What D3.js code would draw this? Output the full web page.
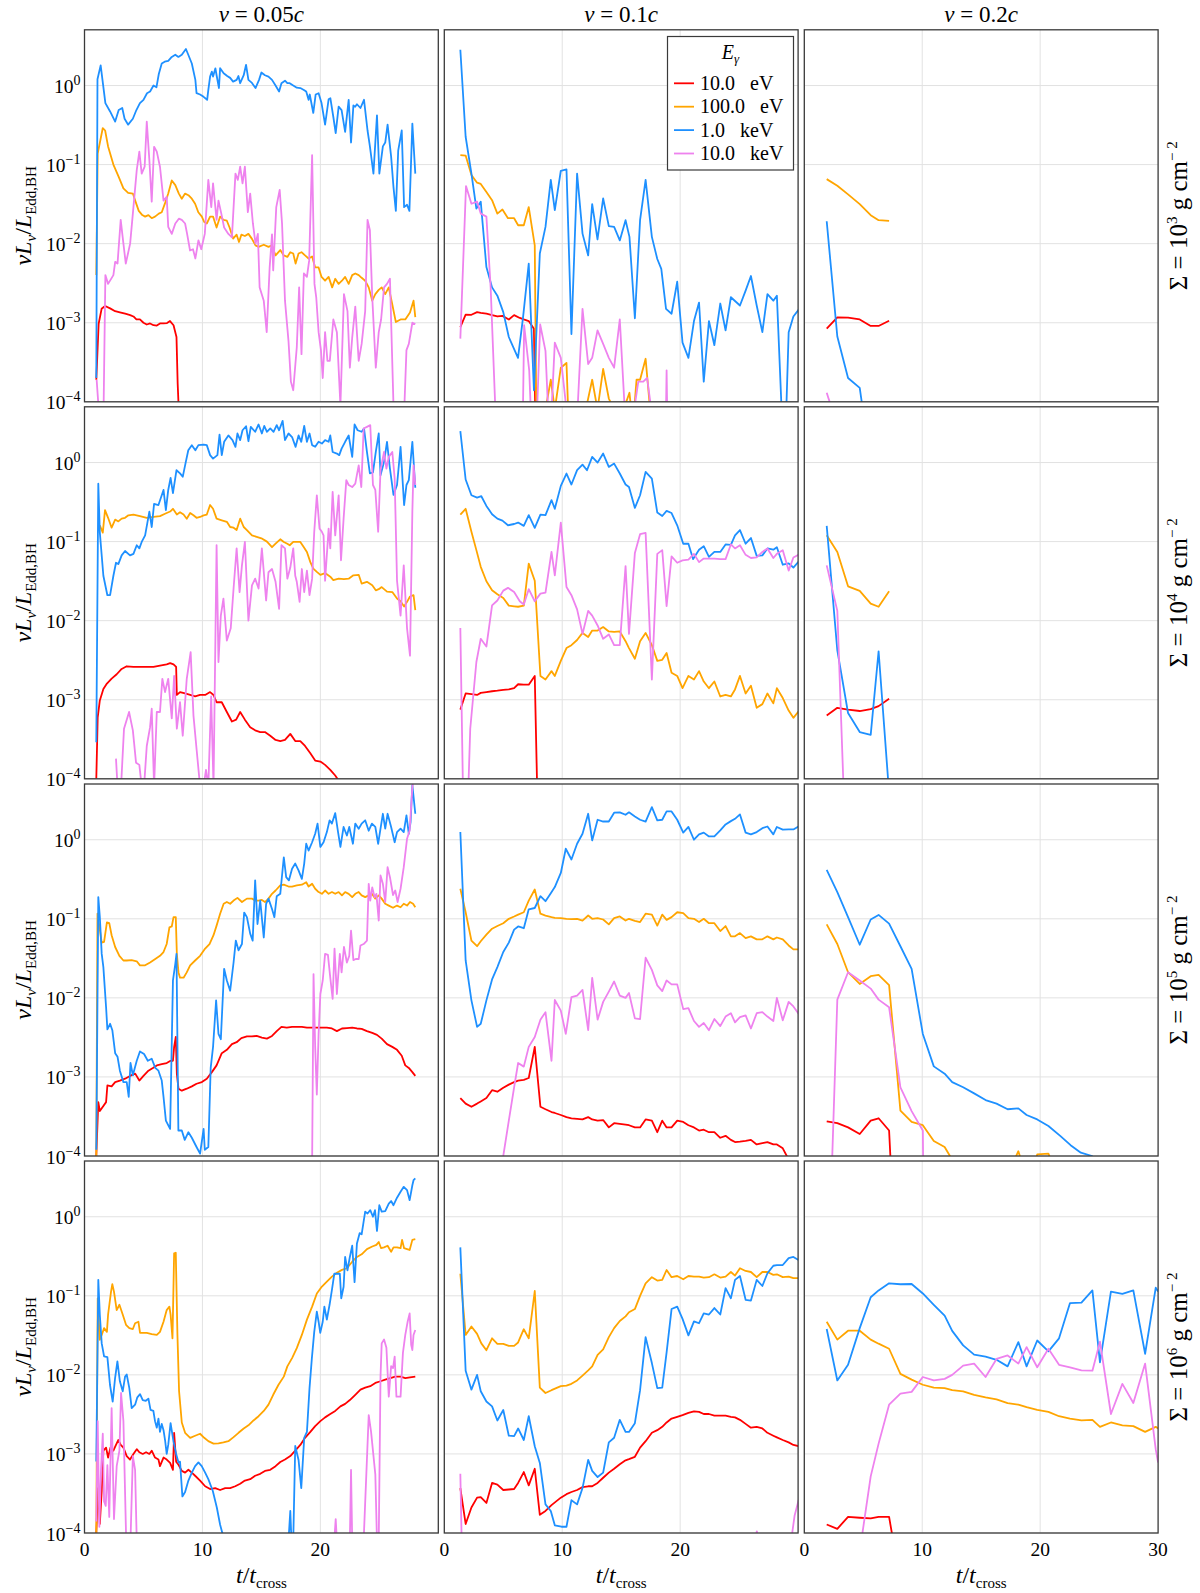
<!DOCTYPE html>
<html><head><meta charset="utf-8">
<script src="https://cdn.jsdelivr.net/npm/d3@7"></script>
<style>body{margin:0;background:#fff} svg text{font-family:"Liberation Serif",serif;white-space:pre}</style>
</head><body><svg id="c" width="1200" height="1593"></svg>
<script>
// ---------- labels / ticks ----------
const velocities = ["0.05","0.1","0.2"];
const sigmaExps = ["3","4","5","6"];
const energyLabels = ["10.0   eV","100.0   eV","1.0   keV","10.0   keV"];
const seriesColors = ["#ff0000","#ffa500","#1e90ff","#ee82ee"];
const xTicks = [0,10,20,30];
const yTickExps = [0,-1,-2,-3,-4];

// ---------- data: [t/tcross, nuL_nu/L_Edd,BH] ----------
// Sigma = 1e3, v = 0.05c
const red_r1c1 = [[1.0,1.9e-4],[1.2,9.7e-4],[1.45,1.5e-3],[1.75,1.63e-3],[2.17,1.52e-3],[2.6,1.4e-3],[3.0,1.35e-3],[3.45,1.3e-3],[3.87,1.25e-3],[4.15,1.2e-3],[4.4,1.1e-3],[4.7,1.1e-3],[5.0,1.0e-3],[5.28,9.5e-4],[5.56,9.8e-4],[5.85,9.3e-4],[6.13,9.2e-4],[6.4,9.8e-4],[6.7,9.8e-4],[7.0,9.9e-4],[7.25,1.05e-3],[7.55,9.3e-4],[7.8,6.6e-4],[7.9,1.7e-4],[8.05,5e-5]];
const orange_r1c1 = [[1.0,4e-3],[1.12,0.138],[1.55,0.29],[1.75,0.27],[2.0,0.17],[2.45,0.10],[2.9,0.07],[3.3,0.05],[3.7,0.044],[4.1,0.043],[4.3,0.035],[4.6,0.026],[4.9,0.023],[5.14,0.022],[5.42,0.023],[5.7,0.021],[5.98,0.022],[6.3,0.024],[6.55,0.025],[6.8,0.0316],[7.1,0.043],[7.4,0.063],[7.7,0.055],[8.0,0.043],[8.25,0.037],[8.53,0.043],[8.81,0.041],[9.1,0.037],[9.38,0.032],[9.65,0.025],[9.95,0.022],[10.15,0.0188],[10.37,0.018],[10.65,0.022],[10.9,0.022],[11.2,0.016],[11.5,0.022],[11.78,0.02],[12.07,0.0195],[12.3,0.016],[12.6,0.0116],[12.9,0.013],[13.1,0.0105],[13.3,0.013],[13.6,0.0125],[13.9,0.0133],[14.2,0.0115],[14.5,0.0095],[14.76,0.0091],[15.2,0.0097],[15.6,0.0091],[15.9,0.0095],[16.2,0.0071],[16.6,0.0083],[16.9,0.0071],[17.2,0.0068],[17.45,0.0078],[17.7,0.0075],[17.9,0.0056],[18.15,0.0075],[18.4,0.0078],[18.7,0.0071],[19.0,0.0065],[19.3,0.0069],[19.56,0.005],[19.85,0.005],[20.1,0.0038],[20.4,0.0034],[20.7,0.0038],[21.0,0.0028],[21.26,0.0036],[21.55,0.0031],[21.83,0.0034],[22.1,0.0038],[22.4,0.0031],[22.7,0.004],[22.96,0.0042],[23.25,0.004],[23.5,0.0037],[23.8,0.0034],[24.1,0.0028],[24.4,0.0019],[24.66,0.0023],[24.95,0.0026],[25.2,0.0028],[25.5,0.0023],[25.8,0.0028],[26.1,0.0017],[26.4,0.00102],[26.8,0.0011],[27.2,0.0011],[27.6,0.00135],[27.9,0.0019],[28.05,0.00118]];
const blue_r1c1 = [[1.0,2e-4],[1.1,1.2],[1.37,1.8],[1.77,0.6],[2.17,0.47],[2.6,0.35],[2.9,0.49],[3.2,0.52],[3.4,0.38],[3.7,0.32],[4.1,0.38],[4.4,0.49],[4.7,0.6],[5.0,0.66],[5.3,0.8],[5.56,0.84],[5.85,1.0],[6.1,0.95],[6.3,1.4],[6.55,1.9],[6.8,2.0],[7.1,2.05],[7.4,2.3],[7.7,2.45],[7.96,2.3],[8.25,2.45],[8.6,2.9],[8.8,2.45],[9.1,1.9],[9.4,1.18],[9.5,0.8],[9.8,0.77],[10.1,0.72],[10.4,0.66],[10.5,0.88],[10.65,1.3],[10.8,1.5],[10.9,1.3],[11.1,1.65],[11.2,1.35],[11.4,0.93],[11.5,1.66],[11.8,1.43],[12.1,1.32],[12.35,1.25],[12.6,1.12],[12.9,1.18],[13.05,1.32],[13.2,1.07],[13.5,1.35],[13.7,1.83],[13.9,1.18],[14.2,1.08],[14.5,0.93],[14.8,1.18],[15.0,1.46],[15.3,1.35],[15.6,1.3],[15.9,1.18],[16.2,1.0],[16.5,0.84],[16.7,1.07],[17.0,1.15],[17.2,1.07],[17.4,1.07],[17.7,1.0],[18.0,0.94],[18.3,0.93],[18.6,0.88],[18.8,0.84],[19.0,0.66],[19.1,0.77],[19.4,0.45],[19.6,0.77],[19.85,0.8],[20.1,0.6],[20.4,0.32],[20.7,0.67],[20.85,0.69],[21.1,0.4],[21.3,0.25],[21.55,0.54],[21.8,0.49],[22.1,0.26],[22.4,0.66],[22.6,0.19],[22.8,0.56],[22.95,0.54],[23.1,0.58],[23.4,0.52],[23.7,0.66],[24.0,0.27],[24.2,0.17],[24.5,0.077],[24.8,0.42],[25.0,0.077],[25.3,0.17],[25.5,0.19],[25.7,0.32],[26.0,0.126],[26.2,0.052],[26.4,0.026],[26.6,0.15],[26.9,0.27],[27.1,0.029],[27.35,0.031],[27.55,0.026],[27.8,0.33],[28.05,0.077]];
const violet_r1c1 = [[1.03,1.9e-4],[1.3,5e-5],[1.6,5e-5],[1.77,4e-3],[2.0,3.1e-3],[2.45,4e-3],[2.6,5.9e-3],[2.8,5.6e-3],[3.07,0.02],[3.3,0.01],[3.5,5.6e-3],[3.87,0.01],[4.15,0.029],[4.43,0.085],[4.65,0.146],[4.85,0.077],[5.1,0.094],[5.28,0.35],[5.5,0.114],[5.7,0.034],[5.9,0.168],[6.13,0.146],[6.4,0.094],[6.7,0.035],[6.97,0.039],[7.1,0.0163],[7.4,0.0133],[7.7,0.018],[8.0,0.0207],[8.25,0.02],[8.53,0.018],[8.7,0.0133],[8.95,0.0082],[9.2,0.0085],[9.4,6.5e-3],[9.66,0.011],[9.9,0.0085],[10.2,0.0133],[10.5,0.064],[10.75,0.029],[10.9,0.058],[11.2,0.02],[11.36,0.035],[11.6,0.024],[11.84,0.016],[12.2,0.0133],[12.5,0.012],[12.8,0.077],[13.0,0.064],[13.2,0.094],[13.4,0.058],[13.6,0.094],[13.85,0.025],[14.05,0.043],[14.28,0.018],[14.5,0.01],[14.7,0.0133],[14.85,2.8e-3],[15.2,1.9e-3],[15.45,7.6e-4],[15.7,5e-3],[15.9,0.0131],[16.0,4.6e-3],[16.26,0.029],[16.55,0.048],[16.75,0.018],[17.0,1.9e-3],[17.3,5.8e-4],[17.5,1.8e-4],[17.7,1.4e-4],[18.0,4.9e-4],[18.2,2.8e-3],[18.4,4e-4],[18.6,4.2e-3],[18.86,3.8e-3],[19.05,6.1e-3],[19.3,0.132],[19.5,3.1e-3],[19.65,2.1e-3],[19.85,7.6e-4],[20.05,4.5e-4],[20.2,2e-4],[20.4,7.6e-4],[20.6,3.3e-4],[20.8,3.3e-4],[21.1,1.1e-3],[21.4,7.6e-4],[21.7,9e-5],[22.0,2.3e-3],[22.3,1.4e-3],[22.5,2.7e-4],[22.7,6.5e-4],[22.96,1.6e-3],[23.25,3.3e-4],[23.5,5.4e-4],[23.8,1.4e-3],[24.0,0.02],[24.2,0.0148],[24.4,2.1e-3],[24.7,2.7e-4],[24.95,7.6e-4],[25.15,1.1e-3],[25.4,2.8e-3],[25.65,3.1e-3],[25.9,3.6e-3],[26.2,9e-5],[26.5,8e-5],[26.8,7e-5],[27.1,7e-5],[27.3,4.5e-4],[27.5,5.4e-4],[27.8,1e-3],[28.05,9.6e-4]];
// Sigma = 1e3, v = 0.1c
const red_r1c2 = [[1.36,8.8e-4],[1.81,1.27e-3],[2.3,1.26e-3],[2.78,1.36e-3],[3.09,1.33e-3],[3.57,1.3e-3],[4.05,1.25e-3],[4.5,1.2e-3],[4.93,1.22e-3],[5.47,1.1e-3],[5.92,1.25e-3],[6.4,1.15e-3],[6.74,1.1e-3],[7.16,1.05e-3],[7.6,8.4e-4],[7.73,5e-5]];
const orange_r1c2 = [[1.36,0.132],[1.81,0.13],[2.3,0.074],[2.78,0.059],[3.09,0.057],[3.57,0.045],[4.05,0.0355],[4.5,0.024],[4.93,0.027],[5.4,0.021],[5.92,0.021],[6.26,0.0171],[6.74,0.0171],[7.16,0.029],[7.67,9.5e-3],[7.8,8e-5],[8.58,8e-5],[9.03,1.9e-4],[9.37,8e-5],[9.88,2.7e-4],[10.36,3.1e-4],[10.5,8e-5],[12.0,8e-5],[12.54,1.9e-4],[12.99,8e-5],[13.47,2.6e-4],[13.95,1.1e-4],[14.4,8e-5],[15.2,8e-5],[15.7,1.3e-4],[15.85,8e-5],[16.1,8e-5],[16.3,1.9e-4],[16.6,1.9e-4],[17.07,3.5e-4],[17.45,8e-5]];
const blue_r1c2 = [[1.36,2.83],[1.81,0.225],[2.3,0.077],[2.72,0.0278],[3.09,0.034],[3.57,5.06e-3],[4.05,2.8e-3],[4.5,2.2e-3],[5.0,1.36e-3],[5.47,6.6e-4],[6.25,3.6e-4],[6.68,1.18e-3],[7.16,5.6e-3],[7.6,1.4e-4],[8.1,7.5e-3],[8.58,0.0163],[9.03,0.064],[9.37,0.0265],[9.88,0.0836],[10.36,0.087],[10.78,7.2e-4],[11.26,0.077],[11.72,0.0134],[12.2,7.1e-3],[12.54,0.0316],[12.99,0.0113],[13.47,0.0373],[13.95,0.0167],[14.4,0.0163],[14.88,0.011],[15.37,0.0198],[15.7,0.0122],[16.16,1.14e-3],[16.6,0.0198],[17.07,0.064],[17.6,0.0122],[18.06,6.4e-3],[18.4,4.8e-3],[18.8,1.5e-3],[19.27,1.3e-3],[19.75,3.3e-3],[20.2,5.6e-4],[20.7,3.6e-4],[21.17,1.05e-3],[21.6,1.8e-3],[22.0,1.8e-4],[22.44,1.05e-3],[22.9,5.2e-4],[23.4,1.75e-3],[23.85,8e-4],[24.3,2.1e-3],[25.07,1.65e-3],[25.55,2.55e-3],[26.0,3.9e-3],[26.49,1.65e-3],[26.97,7.6e-4],[27.4,2.3e-3],[27.9,1.9e-3],[28.2,2.2e-3],[28.6,8e-5],[29.0,8e-5],[29.2,7.6e-4],[29.6,1.2e-3],[30.1,1.5e-3]];
const violet_r1c2 = [[1.36,6.3e-4],[1.84,0.0535],[2.3,0.032],[2.78,0.034],[3.09,0.024],[3.57,0.022],[3.93,2.8e-3],[4.33,8e-5],[6.67,8e-5],[6.77,9.3e-4],[7.2,2.5e-4],[7.33,8e-5],[7.87,8e-5],[8.13,9.5e-4],[8.58,4.4e-4],[8.8,8e-5],[9.1,8e-5],[9.37,5.6e-4],[9.88,3.6e-4],[10.36,8e-5],[11.3,8e-5],[11.72,1.5e-3],[12.2,3e-4],[12.54,3.6e-4],[12.99,8e-4],[13.47,5.4e-4],[13.95,3.6e-4],[14.4,2.7e-4],[14.88,1.1e-3],[15.3,8e-5],[16.1,8e-5],[16.45,1.8e-4],[16.87,1.8e-4],[17.2,2e-4],[17.55,8e-5],[18.8,8e-5],[18.85,2.5e-4],[18.9,8e-5]];
// Sigma = 1e3, v = 0.2c
const red_r1c3 = [[1.9,8.4e-4],[2.8,1.17e-3],[3.71,1.16e-3],[4.7,1.1e-3],[5.63,9.1e-4],[6.3,9.1e-4],[7.19,1.06e-3]];
const orange_r1c3 = [[1.9,0.0655],[2.8,0.054],[3.71,0.042],[4.7,0.0316],[5.63,0.0229],[6.3,0.0198],[7.19,0.0194]];
const blue_r1c3 = [[1.9,0.0192],[2.8,6.7e-4],[3.71,2e-4],[4.7,1.5e-4],[4.88,9.7e-5],[5.63,5e-5]];
const violet_r1c3 = [[1.9,1.3e-4],[2.8,5e-5]];
// Sigma = 1e4, v = 0.05c
const red_r2c1 = [[1.0,1e-4],[1.12,6e-4],[1.3,9.8e-4],[1.6,1.37e-3],[1.9,1.6e-3],[2.3,1.85e-3],[2.73,2.1e-3],[3.15,2.45e-3],[3.58,2.65e-3],[4.15,2.6e-3],[4.7,2.6e-3],[5.28,2.6e-3],[5.85,2.6e-3],[6.4,2.7e-3],[6.97,2.8e-3],[7.26,2.9e-3],[7.55,2.8e-3],[7.77,2.6e-3],[7.83,1.15e-3],[8.1,1.25e-3],[8.53,1.2e-3],[8.96,1.15e-3],[9.38,1.1e-3],[9.8,1.15e-3],[10.23,1.15e-3],[10.65,1.25e-3],[10.94,1.15e-3],[11.2,9.3e-4],[11.64,9.3e-4],[12.07,7e-4],[12.5,5.3e-4],[12.86,5.6e-4],[13.2,7e-4],[13.6,5.6e-4],[14.05,4.5e-4],[14.47,4.1e-4],[14.9,3.9e-4],[15.3,3.9e-4],[15.75,3.5e-4],[16.2,3.1e-4],[16.6,3e-4],[17.0,3.1e-4],[17.45,3.7e-4],[17.87,3e-4],[18.3,3e-4],[18.7,2.6e-4],[19.15,2.1e-4],[19.56,1.7e-4],[20.0,1.65e-4],[20.4,1.5e-4],[20.84,1.3e-4],[21.26,1.1e-4],[21.55,9.5e-5],[21.97,7.5e-5]];
const orange_r2c1 = [[1.3,0.16],[1.55,0.13],[1.74,0.25],[2.0,0.2],[2.3,0.15],[2.6,0.19],[2.87,0.18],[3.15,0.195],[3.44,0.2],[3.72,0.215],[4.15,0.22],[4.7,0.21],[5.28,0.2],[5.85,0.205],[6.4,0.21],[6.83,0.225],[7.26,0.24],[7.5,0.26],[7.83,0.22],[8.1,0.235],[8.4,0.22],[8.67,0.195],[8.96,0.23],[9.24,0.215],[9.5,0.2],[9.8,0.205],[10.1,0.215],[10.37,0.22],[10.65,0.29],[10.9,0.26],[11.2,0.195],[11.64,0.186],[12.07,0.178],[12.35,0.153],[12.64,0.15],[12.9,0.14],[13.2,0.195],[13.5,0.153],[13.77,0.14],[14.2,0.12],[14.6,0.115],[15.0,0.11],[15.47,0.1],[15.9,0.085],[16.2,0.094],[16.6,0.107],[16.9,0.099],[17.2,0.094],[17.4,0.09],[17.7,0.099],[18.0,0.099],[18.3,0.099],[18.6,0.085],[18.86,0.074],[19.15,0.055],[19.4,0.0455],[19.7,0.0414],[20.0,0.038],[20.4,0.04],[20.84,0.036],[21.1,0.0325],[21.55,0.034],[22.0,0.0335],[22.4,0.034],[22.8,0.0375],[23.25,0.038],[23.5,0.0295],[23.95,0.031],[24.4,0.028],[24.7,0.0242],[24.95,0.025],[25.2,0.0266],[25.65,0.0233],[26.1,0.023],[26.5,0.0191],[26.8,0.0176],[27.1,0.0151],[27.35,0.0173],[27.6,0.0202],[27.9,0.021],[28.05,0.0136]];
const blue_r2c1 = [[1.0,2.9e-4],[1.17,0.54],[1.3,0.13],[1.6,0.037],[1.94,0.021],[2.17,0.021],[2.45,0.037],[2.67,0.054],[2.87,0.052],[3.15,0.067],[3.44,0.076],[3.86,0.067],[4.15,0.07],[4.43,0.09],[4.65,0.082],[4.85,0.099],[5.14,0.12],[5.5,0.24],[5.7,0.153],[5.9,0.30],[6.27,0.29],[6.7,0.45],[6.9,0.25],[7.1,0.45],[7.3,0.64],[7.5,0.41],[7.8,0.8],[8.1,0.73],[8.33,0.66],[8.56,0.97],[8.8,1.43],[9.1,1.66],[9.4,1.43],[9.66,1.66],[10.1,1.69],[10.37,1.66],[10.65,1.24],[10.9,1.12],[11.27,1.24],[11.45,2.26],[11.64,1.24],[11.84,1.83],[12.2,2.2],[12.55,1.92],[12.8,1.58],[12.97,2.33],[13.2,1.92],[13.4,2.56],[13.7,2.88],[13.9,1.86],[14.1,2.83],[14.47,2.45],[14.76,3.03],[15.04,2.33],[15.24,2.9],[15.47,2.45],[15.75,2.7],[16.03,2.45],[16.3,2.97],[16.5,2.56],[16.8,3.37],[17.0,1.92],[17.3,2.33],[17.6,2.1],[17.9,1.58],[18.15,2.2],[18.38,1.83],[18.63,2.9],[18.86,1.83],[19.08,2.33],[19.3,1.66],[19.56,1.58],[19.85,1.83],[20.13,1.74],[20.4,1.92],[20.7,1.83],[20.84,2.2],[21.04,1.36],[21.4,1.3],[21.6,1.24],[21.8,1.5],[22.1,1.83],[22.4,2.2],[22.7,1.18],[22.9,3.03],[23.16,2.56],[23.5,2.45],[23.7,2.7],[23.95,1.36],[24.2,0.73],[24.46,0.75],[24.7,1.36],[24.95,2.33],[25.1,0.69],[25.4,1.02],[25.65,1.83],[25.9,0.84],[26.2,0.39],[26.5,0.52],[26.8,1.58],[27.1,0.29],[27.3,0.52],[27.5,0.6],[27.8,1.83],[28.05,0.48]];
const violet_r2c1 = [[2.67,1.8e-4],[2.8,8e-5],[3.1,8e-5],[3.35,4.3e-4],[3.78,7e-4],[4.1,4.1e-4],[4.37,1.6e-4],[4.65,1.5e-4],[4.85,8e-5],[5.05,8e-5],[5.28,2.6e-4],[5.56,4.5e-4],[5.7,7.7e-4],[5.9,8e-5],[6.13,7e-4],[6.4,7e-4],[6.6,1.84e-3],[6.83,1.25e-3],[7.1,1.84e-3],[7.4,5.8e-4],[7.6,2e-3],[7.83,4.3e-4],[8.1,9.3e-4],[8.33,3.5e-4],[8.67,1.84e-3],[9.0,4e-3],[9.24,6.3e-4],[9.5,2.4e-4],[9.8,8e-5],[10.1,8e-5],[10.3,1.3e-4],[10.5,8e-5],[10.74,1.1e-3],[10.94,8e-5],[11.2,0.09],[11.36,3e-3],[11.56,0.0116],[11.78,0.019],[12.07,5.6e-3],[12.4,8e-3],[12.64,0.0255],[12.9,0.082],[13.15,0.023],[13.35,0.05],[13.6,0.099],[13.9,0.01],[14.2,0.028],[14.47,0.034],[14.76,0.0255],[15.04,0.082],[15.4,0.018],[15.6,0.041],[15.9,0.045],[16.2,0.031],[16.5,0.0141],[16.7,0.09],[17.0,0.082],[17.2,0.034],[17.45,0.047],[17.7,0.082],[17.87,0.037],[18.0,0.031],[18.24,0.0173],[18.43,0.045],[18.63,0.023],[18.86,0.043],[19.08,0.021],[19.3,0.034],[19.48,0.133],[19.7,0.385],[19.93,0.146],[20.13,0.133],[20.27,0.12],[20.4,0.032],[20.7,0.146],[20.84,0.082],[21.04,0.425],[21.26,0.12],[21.55,0.385],[21.75,0.058],[21.97,0.195],[22.2,0.6],[22.4,0.52],[22.7,0.49],[22.96,0.54],[23.25,0.92],[23.47,0.49],[23.67,2.7],[23.95,2.83],[24.23,2.97],[24.46,0.52],[24.66,0.45],[24.9,0.133],[25.1,0.8],[25.4,1.36],[25.6,0.84],[25.8,1.18],[26.1,1.36],[26.3,0.63],[26.5,0.032],[26.8,0.0116],[27.07,0.05],[27.35,8e-3],[27.6,3.6e-3],[27.8,0.24],[27.9,0.92],[28.05,0.52]];
// Sigma = 1e4, v = 0.1c
const red_r2c2 = [[1.36,7.5e-4],[1.81,1.2e-3],[2.3,1.18e-3],[2.78,1.15e-3],[3.09,1.22e-3],[3.57,1.25e-3],[4.05,1.28e-3],[4.5,1.3e-3],[5.0,1.33e-3],[5.47,1.35e-3],[5.92,1.4e-3],[6.26,1.57e-3],[6.74,1.55e-3],[7.16,1.55e-3],[7.67,2e-3],[7.9,5e-5]];
const orange_r2c2 = [[1.36,0.22],[1.81,0.26],[2.3,0.133],[2.72,0.078],[3.09,0.048],[3.57,0.0315],[4.05,0.0243],[4.5,0.0216],[5.0,0.0194],[5.47,0.0155],[5.92,0.0152],[6.26,0.015],[6.74,0.0155],[7.16,0.0527],[7.67,0.032],[8.15,2e-3],[8.58,1.8e-3],[9.09,2.3e-3],[9.37,2e-3],[9.88,3.1e-3],[10.36,4.5e-3],[10.78,4.9e-3],[11.26,5.7e-3],[11.72,7e-3],[12.2,6.2e-3],[12.54,7.5e-3],[13.0,7.5e-3],[13.47,8.3e-3],[13.95,7.3e-3],[14.4,7.2e-3],[14.88,7.3e-3],[15.37,5.5e-3],[15.66,4.5e-3],[16.16,3.3e-3],[16.6,5.5e-3],[17.07,7e-3],[17.6,4.9e-3],[18.06,3.1e-3],[18.48,3.2e-3],[18.85,3.9e-3],[19.27,2.2e-3],[19.75,2e-3],[20.2,1.4e-3],[20.7,2e-3],[21.17,1.8e-3],[21.6,2.3e-3],[22.0,1.7e-3],[22.44,1.4e-3],[22.9,1.7e-3],[23.4,1.1e-3],[23.85,1.15e-3],[24.3,1.1e-3],[24.65,1.35e-3],[25.07,2e-3],[25.55,1.2e-3],[26.0,1.5e-3],[26.49,7.9e-4],[26.97,8.8e-4],[27.4,1.2e-3],[27.9,9e-4],[28.2,1.4e-3],[28.7,1.05e-3],[29.2,7.3e-4],[29.6,5.9e-4],[30.1,7.3e-4]];
const blue_r2c2 = [[1.36,2.5],[1.81,0.61],[2.3,0.386],[2.78,0.36],[3.14,0.375],[3.57,0.283],[4.05,0.222],[4.5,0.195],[4.93,0.184],[5.4,0.161],[5.92,0.167],[6.26,0.174],[6.74,0.158],[7.16,0.216],[7.67,0.149],[8.15,0.22],[8.58,0.216],[9.09,0.334],[9.37,0.26],[9.88,0.507],[10.36,0.726],[10.78,0.527],[11.26,0.8],[11.72,0.94],[12.1,0.8],[12.54,1.18],[13.0,1.0],[13.47,1.3],[13.95,0.88],[14.4,0.97],[14.88,0.726],[15.37,0.527],[15.66,0.49],[16.16,0.267],[16.6,0.386],[17.07,0.762],[17.6,0.627],[18.06,0.233],[18.48,0.211],[18.85,0.245],[19.27,0.23],[19.75,0.161],[20.26,0.094],[20.7,0.094],[21.1,0.06],[21.6,0.079],[22.0,0.0875],[22.44,0.064],[22.9,0.074],[23.4,0.074],[23.85,0.092],[24.3,0.091],[24.65,0.12],[25.07,0.14],[25.55,0.094],[26.0,0.111],[26.49,0.066],[26.97,0.067],[27.4,0.082],[27.9,0.079],[28.2,0.085],[28.7,0.051],[29.2,0.053],[29.6,0.047],[30.1,0.057]];
const violet_r2c2 = [[1.36,8.1e-3],[1.6,5e-5],[2.0,5e-5],[2.2,4.3e-4],[2.72,3e-3],[3.09,5.9e-3],[3.57,4.7e-3],[4.05,0.0156],[4.5,0.018],[5.0,0.024],[5.4,0.026],[5.92,0.023],[6.4,0.0176],[6.74,0.016],[7.16,0.025],[7.67,0.0176],[8.15,0.022],[8.58,0.0226],[9.09,0.074],[9.37,0.0375],[9.88,0.174],[10.36,0.0267],[10.78,0.021],[11.26,0.0139],[11.72,6.8e-3],[12.2,0.0133],[12.54,0.0116],[13.0,8.7e-3],[13.47,5.9e-3],[13.95,6.7e-3],[14.4,4.9e-3],[14.88,4.9e-3],[15.37,0.049],[15.66,6.8e-3],[16.16,0.072],[16.6,0.124],[17.07,0.129],[17.6,1.8e-3],[18.06,0.07],[18.48,0.078],[18.85,0.0153],[19.27,0.065],[19.75,0.054],[20.2,0.058],[20.7,0.059],[21.17,0.07],[21.6,0.055],[22.0,0.061],[22.44,0.061],[22.9,0.061],[23.4,0.06],[23.85,0.06],[24.3,0.092],[24.65,0.082],[25.07,0.09],[25.55,0.068],[26.0,0.062],[26.49,0.063],[26.97,0.074],[27.4,0.082],[27.9,0.062],[28.2,0.07],[28.7,0.078],[29.2,0.043],[29.6,0.063],[30.1,0.069]];
// Sigma = 1e4, v = 0.2c
const red_r2c3 = [[1.9,6.3e-4],[2.8,7.9e-4],[3.71,7.5e-4],[4.7,7.2e-4],[5.63,7.6e-4],[6.3,8.3e-4],[7.19,1.03e-3]];
const orange_r2c3 = [[1.9,0.12],[2.8,0.074],[3.71,0.0272],[4.7,0.0238],[5.63,0.0164],[6.3,0.015],[7.19,0.0236]];
const blue_r2c3 = [[1.9,0.158],[2.8,4.2e-3],[3.71,6.8e-4],[4.7,3.9e-4],[5.63,3.6e-4],[6.3,4.1e-3],[7.1,1e-4],[7.4,5e-5]];
const violet_r2c3 = [[1.9,0.05],[2.8,0.0133],[3.3,1e-4],[3.5,5e-5]];
// Sigma = 1e5, v = 0.05c
const red_r3c1 = [[1.0,1e-4],[1.17,4.8e-4],[1.3,3.7e-4],[1.6,4.3e-4],[1.83,4.8e-4],[1.94,7.8e-4],[2.3,7.6e-4],[2.6,8.6e-4],[3.0,9e-4],[3.44,9.5e-4],[3.86,1.03e-3],[4.3,1.1e-3],[4.65,9e-4],[5.0,1.03e-3],[5.42,1.2e-3],[5.8,1.3e-3],[6.13,1.4e-3],[6.55,1.45e-3],[6.97,1.5e-3],[7.3,1.6e-3],[7.5,1.6e-3],[7.6,2.4e-3],[7.74,3.2e-3],[7.83,1.1e-3],[7.97,7.1e-4],[8.25,6.7e-4],[8.67,7.1e-4],[9.1,7.6e-4],[9.5,8.2e-4],[9.95,8.6e-4],[10.37,9.5e-4],[10.8,1.15e-3],[11.2,1.4e-3],[11.64,2e-3],[12.07,2.2e-3],[12.5,2.6e-3],[12.9,2.75e-3],[13.3,3.1e-3],[13.77,3.25e-3],[14.2,3.25e-3],[14.6,3.3e-3],[15.04,3.15e-3],[15.47,3.05e-3],[15.9,3.3e-3],[16.3,3.8e-3],[16.7,4.3e-3],[17.15,4.2e-3],[17.6,4.3e-3],[18.0,4.3e-3],[18.43,4.3e-3],[18.86,4.2e-3],[19.3,4.2e-3],[19.7,4.2e-3],[20.13,4.2e-3],[20.55,4.2e-3],[20.98,4.1e-3],[21.4,3.8e-3],[21.83,4.1e-3],[22.25,4.15e-3],[22.7,4.2e-3],[23.1,4.1e-3],[23.5,4.05e-3],[23.95,3.8e-3],[24.4,3.6e-3],[24.8,3.4e-3],[25.2,3.05e-3],[25.65,2.6e-3],[26.1,2.4e-3],[26.5,2.2e-3],[26.9,1.85e-3],[27.2,1.4e-3],[27.5,1.3e-3],[27.8,1.15e-3],[28.05,1.03e-3]];
const orange_r3c1 = [[1.0,1e-4],[1.1,0.116],[1.46,0.05],[1.66,0.051],[1.9,0.09],[2.1,0.088],[2.3,0.062],[2.6,0.044],[2.96,0.034],[3.3,0.0297],[3.58,0.0297],[4.0,0.03],[4.43,0.029],[4.7,0.0258],[5.14,0.0258],[5.56,0.028],[6.0,0.031],[6.4,0.034],[6.7,0.038],[6.97,0.048],[7.2,0.078],[7.4,0.08],[7.55,0.105],[7.74,0.105],[7.83,0.036],[7.97,0.021],[8.1,0.018],[8.4,0.018],[8.67,0.021],[8.96,0.0258],[9.38,0.0297],[9.8,0.034],[10.23,0.042],[10.6,0.048],[10.94,0.062],[11.2,0.082],[11.5,0.116],[11.8,0.155],[12.07,0.163],[12.35,0.155],[12.64,0.17],[12.97,0.184],[13.35,0.163],[13.77,0.18],[14.2,0.18],[14.47,0.17],[14.76,0.17],[15.04,0.173],[15.3,0.163],[15.6,0.18],[15.9,0.207],[16.2,0.228],[16.6,0.264],[16.9,0.27],[17.3,0.256],[17.6,0.256],[18.0,0.264],[18.43,0.27],[18.8,0.29],[19.0,0.256],[19.3,0.277],[19.56,0.24],[19.85,0.218],[20.13,0.207],[20.4,0.228],[20.7,0.207],[20.98,0.218],[21.26,0.207],[21.55,0.218],[21.83,0.198],[22.1,0.218],[22.4,0.207],[22.7,0.188],[22.96,0.207],[23.25,0.218],[23.5,0.198],[23.8,0.188],[24.1,0.198],[24.37,0.207],[24.66,0.18],[24.95,0.198],[25.2,0.18],[25.5,0.155],[25.8,0.147],[26.16,0.138],[26.5,0.147],[26.8,0.14],[27.07,0.155],[27.35,0.147],[27.6,0.163],[27.86,0.155],[28.05,0.14]];
const blue_r3c1 = [[1.0,1.2e-4],[1.17,0.188],[1.3,0.105],[1.46,0.036],[1.6,0.0245],[1.83,7.6e-3],[1.94,4e-3],[2.17,4.7e-3],[2.36,3.9e-3],[2.6,2e-3],[2.8,1.8e-3],[3.0,1.2e-3],[3.3,8.6e-4],[3.58,8.6e-4],[3.75,5.6e-4],[3.9,1.5e-3],[4.1,1.05e-3],[4.43,1.6e-3],[4.7,2.1e-3],[5.05,1.95e-3],[5.37,1.6e-3],[5.7,1.7e-3],[6.0,1.3e-3],[6.27,1.2e-3],[6.55,9e-4],[6.7,5.6e-4],[6.9,2.8e-4],[7.26,2.2e-4],[7.5,0.0166],[7.7,0.027],[7.8,0.036],[7.96,2.1e-4],[8.25,2.1e-4],[8.5,1.6e-4],[8.81,2e-4],[9.1,1.7e-4],[9.5,1.3e-4],[9.8,1.07e-4],[10.1,2.2e-4],[10.2,1.2e-4],[10.5,1.3e-4],[10.7,1.3e-3],[10.9,2.4e-3],[11.16,9.3e-3],[11.36,3.5e-3],[11.56,3e-3],[11.84,0.0233],[12.07,0.0166],[12.35,0.0123],[12.64,0.028],[12.83,0.053],[13.06,0.04],[13.35,0.048],[13.54,0.12],[13.77,0.105],[14.05,0.065],[14.26,0.053],[14.47,0.306],[14.67,0.086],[14.9,0.17],[15.2,0.058],[15.4,0.155],[15.6,0.18],[15.9,0.133],[16.1,0.105],[16.3,0.193],[16.6,0.207],[16.9,0.6],[17.1,0.336],[17.33,0.306],[17.6,0.43],[17.87,0.5],[18.15,0.41],[18.43,0.32],[18.63,0.5],[18.8,0.89],[19.0,0.73],[19.3,0.93],[19.56,1.19],[19.76,1.6],[20.0,0.81],[20.27,0.93],[20.55,1.25],[20.78,1.76],[20.98,1.6],[21.26,2.17],[21.5,1.25],[21.7,0.81],[21.97,1.45],[22.25,1.13],[22.45,1.45],[22.76,0.89],[22.96,1.6],[23.25,1.38],[23.5,1.6],[23.8,1.76],[24.1,1.3],[24.37,1.6],[24.66,1.45],[24.9,0.89],[25.1,1.38],[25.3,2.13],[25.5,1.38],[25.7,2.13],[26.0,1.45],[26.3,0.93],[26.5,1.25],[26.8,1.38],[27.07,1.25],[27.3,2.03],[27.5,1.19],[27.65,1.67],[27.8,4.9],[28.05,2.13]];
const violet_r3c1 = [[19.3,8e-5],[19.42,0.02],[19.56,2.4e-3],[19.7,6e-4],[19.85,3.5e-3],[20.0,0.0112],[20.2,0.0166],[20.4,0.036],[20.64,0.035],[20.84,0.018],[21.04,9.7e-3],[21.2,0.042],[21.4,0.0112],[21.65,0.036],[21.8,0.021],[22.0,0.044],[22.25,0.028],[22.45,0.034],[22.6,0.071],[22.8,0.03],[23.0,0.031],[23.25,0.031],[23.4,0.046],[23.67,0.048],[23.95,0.053],[24.1,0.277],[24.23,0.17],[24.4,0.25],[24.6,0.188],[24.75,0.207],[24.95,0.095],[25.1,0.353],[25.3,0.277],[25.5,0.163],[25.7,0.45],[25.9,0.336],[26.16,0.2],[26.35,0.228],[26.55,0.163],[26.8,0.24],[27.07,0.45],[27.35,1.03],[27.57,1.31],[27.8,4.6],[27.9,6.0]];
// Sigma = 1e5, v = 0.1c
const red_r3c2 = [[1.36,5.4e-4],[1.81,4.6e-4],[2.3,4.2e-4],[2.78,4.6e-4],[3.09,4.9e-4],[3.57,5.4e-4],[4.05,6.8e-4],[4.5,6.5e-4],[5.0,7.3e-4],[5.47,8e-4],[5.92,8.6e-4],[6.26,9e-4],[6.74,9.2e-4],[7.16,9.7e-4],[7.67,2.4e-3],[8.15,4.2e-4],[8.58,3.9e-4],[9.09,3.6e-4],[9.37,3.5e-4],[9.88,3.3e-4],[10.36,3.1e-4],[10.78,3e-4],[11.26,2.95e-4],[11.72,2.9e-4],[12.2,3.1e-4],[12.54,2.9e-4],[13.0,2.8e-4],[13.47,2.85e-4],[13.95,2.3e-4],[14.4,2.6e-4],[14.88,2.55e-4],[15.37,2.5e-4],[15.66,2.45e-4],[16.16,2.3e-4],[16.6,2.3e-4],[17.07,2.9e-4],[17.6,2.8e-4],[18.06,2e-4],[18.48,2.8e-4],[18.85,2.3e-4],[19.27,2.3e-4],[19.75,2.8e-4],[20.26,2.7e-4],[20.7,2.45e-4],[21.17,2.3e-4],[21.6,2.1e-4],[22.0,2.15e-4],[22.44,2e-4],[22.9,2e-4],[23.4,1.7e-4],[23.85,1.8e-4],[24.3,1.6e-4],[24.65,1.5e-4],[25.07,1.52e-4],[25.55,1.55e-4],[26.0,1.6e-4],[26.49,1.4e-4],[26.97,1.45e-4],[27.4,1.5e-4],[27.9,1.4e-4],[28.2,1.4e-4],[28.7,1.25e-4],[29.04,1e-4],[29.3,8e-5]];
const orange_r3c2 = [[1.36,0.24],[1.81,0.121],[2.3,0.053],[2.78,0.045],[3.09,0.052],[3.57,0.063],[4.05,0.075],[4.5,0.081],[5.0,0.088],[5.47,0.1],[5.92,0.107],[6.26,0.113],[6.74,0.121],[7.16,0.17],[7.67,0.235],[8.15,0.116],[8.58,0.11],[9.09,0.105],[9.37,0.103],[9.88,0.102],[10.36,0.1],[10.78,0.099],[11.26,0.1],[11.72,0.095],[12.2,0.11],[12.54,0.1],[13.0,0.102],[13.47,0.098],[13.95,0.085],[14.4,0.102],[14.88,0.107],[15.37,0.095],[15.66,0.1],[16.16,0.094],[16.6,0.091],[17.07,0.116],[17.6,0.113],[18.06,0.082],[18.48,0.113],[18.85,0.097],[19.27,0.105],[19.75,0.121],[20.26,0.118],[20.7,0.102],[21.17,0.1],[21.6,0.091],[22.0,0.1],[22.44,0.088],[22.9,0.088],[23.4,0.07],[23.85,0.081],[24.3,0.06],[24.65,0.06],[25.07,0.066],[25.55,0.057],[26.0,0.06],[26.49,0.055],[26.97,0.055],[27.4,0.06],[27.9,0.055],[28.2,0.058],[28.7,0.055],[29.2,0.046],[29.6,0.041],[30.1,0.041]];
const blue_r3c2 = [[1.36,1.25],[1.81,0.0297],[2.3,9.3e-3],[2.78,4.3e-3],[3.09,4.7e-3],[3.57,9.3e-3],[4.05,0.0171],[4.5,0.0245],[5.0,0.038],[5.47,0.05],[5.92,0.073],[6.26,0.08],[6.74,0.076],[7.16,0.132],[7.67,0.137],[8.15,0.193],[8.58,0.167],[9.03,0.211],[9.37,0.252],[9.88,0.38],[10.3,0.77],[10.78,0.563],[11.26,0.89],[11.72,1.19],[12.2,2.13],[12.54,0.98],[13.0,1.79],[13.47,1.7],[13.95,1.7],[14.4,2.2],[14.88,2.22],[15.37,2.07],[15.66,2.22],[16.16,1.97],[16.6,1.79],[17.07,1.7],[17.6,2.59],[18.06,1.76],[18.48,1.79],[18.85,2.28],[19.27,2.28],[19.75,1.79],[20.26,1.23],[20.7,1.45],[21.17,1.0],[21.6,1.17],[22.0,1.23],[22.44,1.1],[22.9,1.1],[23.4,1.31],[23.85,1.56],[24.3,1.72],[24.65,1.84],[25.07,2.09],[25.55,1.23],[26.0,1.17],[26.49,1.25],[26.97,1.4],[27.4,1.47],[27.9,1.17],[28.2,1.45],[28.7,1.34],[29.2,1.35],[29.6,1.35],[30.1,1.49]];
const violet_r3c2 = [[5.0,1e-4],[5.47,2.8e-4],[5.92,7.4e-4],[6.26,1.5e-3],[6.74,1.35e-3],[7.16,2.4e-3],[7.67,3.2e-3],[8.15,5.3e-3],[8.58,6.6e-3],[9.09,1.6e-3],[9.37,9.4e-3],[9.88,6.9e-3],[10.3,3.5e-3],[10.78,0.0102],[11.26,0.0107],[11.72,0.0126],[12.2,3.9e-3],[12.54,0.0179],[13.0,5.3e-3],[13.47,8.9e-3],[13.95,0.012],[14.4,0.0161],[14.88,0.0107],[15.37,0.01],[15.66,0.0115],[16.16,5.5e-3],[16.6,5.4e-3],[17.07,0.0322],[17.6,0.0226],[18.06,0.0144],[18.48,0.0122],[18.85,0.0166],[19.27,0.0148],[19.75,0.0148],[20.26,7.2e-3],[20.7,7.4e-3],[21.17,5.1e-3],[21.6,4.3e-3],[22.0,4.8e-3],[22.44,3.9e-3],[22.9,5.4e-3],[23.4,4.4e-3],[23.85,5.8e-3],[24.3,6.4e-3],[24.65,4.9e-3],[25.07,5.7e-3],[25.55,6e-3],[26.0,4.1e-3],[26.49,6.4e-3],[26.97,6.6e-3],[27.4,5.8e-3],[27.9,5.1e-3],[28.2,0.01],[28.7,5.2e-3],[29.2,8.9e-3],[29.6,7.8e-3],[30.1,6.1e-3]];
// Sigma = 1e5, v = 0.2c
const red_r3c3 = [[1.9,2.75e-4],[2.8,2.6e-4],[3.71,2.3e-4],[4.7,1.9e-4],[5.63,2.8e-4],[6.3,3e-4],[7.19,2.1e-4],[7.33,8e-5],[7.5,5e-5]];
const orange_r3c3 = [[1.9,0.085],[2.8,0.048],[3.71,0.0211],[4.7,0.015],[5.63,0.0188],[6.3,0.0195],[7.19,0.0145],[8.15,3.75e-4],[9.1,2.7e-4],[10.05,2.45e-4],[10.98,1.55e-4],[11.9,1.3e-4],[12.35,1e-4],[12.76,7.5e-5],[17.5,7e-5],[18.15,1.15e-4],[18.6,7e-5],[19.5,7e-5],[19.75,1.05e-4],[20.7,1.07e-4],[21.2,7e-5]];
const blue_r3c3 = [[1.9,0.417],[2.8,0.218],[3.71,0.105],[4.7,0.047],[5.63,0.098],[6.3,0.112],[7.19,0.087],[8.15,0.045],[9.1,0.0233],[10.05,3.5e-3],[10.98,1.36e-3],[11.9,1.1e-3],[12.54,8.6e-4],[13.47,7.4e-4],[14.4,6.2e-4],[15.37,5.1e-4],[16.3,4.6e-4],[17.24,3.9e-4],[18.15,4e-4],[18.85,3.3e-4],[19.75,2.9e-4],[20.7,2.4e-4],[21.7,1.8e-4],[22.58,1.37e-4],[23.45,1.1e-4],[24.4,1e-4],[25.0,7e-5]];
const violet_r3c3 = [[2.35,8e-5],[2.8,9.5e-3],[3.71,0.0211],[4.7,0.0166],[5.63,0.0131],[6.3,9.5e-3],[7.19,7.6e-3],[8.15,7.4e-4],[9.1,3.7e-4],[10.05,2.1e-4],[10.08,8e-5]];
// Sigma = 1e6, v = 0.05c
const red_r4c1 = [[1.0,1e-4],[1.15,3.7e-4],[1.3,1.3e-4],[1.46,3.4e-4],[1.6,1.1e-3],[1.83,1.2e-3],[2.0,9e-4],[2.2,1.2e-3],[2.45,1.1e-3],[2.67,1.3e-3],[2.87,1.5e-3],[3.07,1.3e-3],[3.3,1.2e-3],[3.58,9.4e-4],[3.86,8.5e-4],[4.15,1e-3],[4.43,1.15e-3],[4.65,1.05e-3],[4.94,1e-3],[5.22,1.05e-3],[5.5,1e-3],[5.7,1.1e-3],[5.98,9e-4],[6.27,8.5e-4],[6.4,7e-4],[6.7,9e-4],[6.97,8.5e-4],[7.26,7.7e-4],[7.5,6.3e-4],[7.6,1.85e-3],[7.77,8e-4],[7.97,7.3e-4],[8.25,6.1e-4],[8.53,5.8e-4],[8.81,6.3e-4],[9.1,5.8e-4],[9.38,5.3e-4],[9.8,4.6e-4],[10.23,3.9e-4],[10.65,3.6e-4],[11.08,3.7e-4],[11.5,3.5e-4],[11.93,3.7e-4],[12.35,3.7e-4],[12.78,3.9e-4],[13.2,4.2e-4],[13.6,4.6e-4],[14.05,4.8e-4],[14.47,5.3e-4],[14.9,5.6e-4],[15.3,6.1e-4],[15.75,6.3e-4],[16.2,7e-4],[16.6,7.9e-4],[17.0,8.5e-4],[17.45,9.4e-4],[17.87,1.1e-3],[18.3,1.3e-3],[18.7,1.6e-3],[19.15,1.9e-3],[19.56,2.25e-3],[20.0,2.6e-3],[20.4,2.9e-3],[20.84,3.2e-3],[21.26,3.5e-3],[21.7,4e-3],[22.1,4.3e-3],[22.5,4.8e-3],[22.96,5.6e-3],[23.4,6.5e-3],[23.8,6.9e-3],[24.23,7.2e-3],[24.66,7.9e-3],[25.1,8.3e-3],[25.5,8.7e-3],[25.93,9.1e-3],[26.35,9.5e-3],[26.8,9.5e-3],[27.2,9.1e-3],[27.6,9.3e-3],[28.05,9.5e-3]];
const orange_r4c1 = [[1.0,1e-4],[1.12,0.093],[1.3,0.0278],[1.46,0.032],[1.66,0.039],[1.9,0.035],[2.0,0.058],[2.25,0.113],[2.36,0.14],[2.5,0.113],[2.73,0.066],[2.96,0.077],[3.24,0.058],[3.52,0.043],[3.8,0.039],[4.1,0.038],[4.29,0.045],[4.57,0.047],[4.71,0.034],[5.0,0.034],[5.28,0.034],[5.7,0.0328],[6.13,0.032],[6.4,0.035],[6.7,0.047],[6.97,0.066],[7.2,0.073],[7.3,0.058],[7.46,0.029],[7.6,0.344],[7.74,0.35],[7.88,0.0322],[8.02,6.2e-3],[8.25,2.5e-3],[8.53,1.85e-3],[8.96,1.6e-3],[9.38,1.7e-3],[9.8,1.8e-3],[10.15,1.6e-3],[10.5,1.45e-3],[10.94,1.35e-3],[11.36,1.36e-3],[11.78,1.4e-3],[12.2,1.45e-3],[12.64,1.63e-3],[13.06,1.85e-3],[13.5,2.1e-3],[13.9,2.3e-3],[14.33,2.65e-3],[14.76,3e-3],[15.2,3.5e-3],[15.6,4.2e-3],[16.0,5.6e-3],[16.45,7.5e-3],[16.9,9.5e-3],[17.2,0.0128],[17.6,0.0163],[18.0,0.0218],[18.43,0.032],[18.86,0.05],[19.3,0.073],[19.7,0.107],[20.13,0.131],[20.55,0.151],[20.98,0.175],[21.4,0.196],[21.83,0.213],[22.25,0.223],[22.7,0.27],[23.1,0.31],[23.5,0.335],[23.95,0.39],[24.4,0.42],[24.75,0.44],[24.95,0.48],[25.15,0.4],[25.4,0.41],[25.7,0.43],[26.0,0.36],[26.2,0.41],[26.5,0.41],[26.8,0.4],[26.93,0.51],[27.1,0.4],[27.35,0.39],[27.57,0.38],[27.8,0.51],[28.05,0.52]];
const blue_r4c1 = [[1.0,8e-4],[1.17,0.159],[1.3,0.057],[1.46,0.025],[1.66,0.0171],[1.94,0.0168],[2.16,7.5e-3],[2.39,4.6e-3],[2.59,9e-3],[2.79,0.0148],[3.0,8.3e-3],[3.24,6.2e-3],[3.44,9.5e-3],[3.58,0.0101],[3.8,6.8e-3],[4.0,3.8e-3],[4.29,4.2e-3],[4.48,5.2e-3],[4.71,5.7e-3],[4.94,4.8e-3],[5.2,4.7e-3],[5.42,5e-3],[5.6,3.6e-3],[5.84,3.5e-3],[5.98,2.6e-3],[6.13,2.15e-3],[6.27,2.8e-3],[6.4,1.9e-3],[6.55,2.4e-3],[6.7,2e-3],[6.83,1.5e-3],[6.97,1e-3],[7.1,1.3e-3],[7.3,2.45e-3],[7.54,1.45e-3],[7.77,1e-3],[7.97,7.8e-4],[8.1,8e-4],[8.3,2.9e-4],[8.53,3.3e-4],[8.81,4.6e-4],[9.1,5.8e-4],[9.38,7e-4],[9.66,7.8e-4],[9.94,7e-4],[10.23,5.8e-4],[10.5,4.8e-4],[10.88,3.4e-4],[11.22,2.1e-4],[11.5,1.27e-4],[11.72,9.6e-5],[12.0,5e-5],[17.2,5e-5],[17.33,9.6e-5],[17.45,1.9e-4],[17.55,8e-5],[17.7,8e-5],[17.87,1.26e-3],[18.15,8.4e-4],[18.38,3.7e-4],[18.63,1.6e-3],[18.86,1.9e-3],[19.08,6.8e-3],[19.28,0.0163],[19.48,0.035],[19.7,0.063],[19.85,0.047],[19.99,0.034],[20.2,0.047],[20.34,0.073],[20.55,0.05],[20.78,0.077],[20.98,0.119],[21.18,0.19],[21.5,0.19],[21.65,0.19],[21.77,0.093],[21.97,0.13],[22.1,0.31],[22.3,0.21],[22.5,0.31],[22.7,0.43],[22.9,0.149],[23.1,0.46],[23.33,0.62],[23.5,0.6],[23.8,1.16],[24.0,1.1],[24.23,1.21],[24.46,1.0],[24.63,1.21],[24.8,0.66],[25.0,1.4],[25.2,1.16],[25.5,1.18],[25.8,1.47],[26.0,1.58],[26.2,1.4],[26.5,1.74],[26.8,2.07],[27.07,2.39],[27.35,2.17],[27.57,1.62],[27.8,2.5],[27.9,2.9],[28.05,3.05]];
const violet_r4c1 = [[1.0,1.4e-4],[1.12,2.6e-3],[1.26,1.2e-4],[1.4,6.3e-4],[1.55,1.8e-3],[1.66,2.5e-4],[1.8,2.2e-4],[1.94,7.2e-4],[2.1,1.6e-4],[2.3,3.8e-3],[2.5,1.5e-4],[2.73,7e-4],[2.96,1.1e-3],[3.1,5.9e-3],[3.3,2.6e-3],[3.52,1e-4],[3.72,8e-5],[3.9,8e-5],[4.1,9.4e-4],[4.29,6.3e-4],[4.43,8e-5],[4.5,5e-5],[21.1,5e-5],[21.2,9e-5],[21.3,1.5e-4],[21.4,8e-5],[21.5,5e-5],[22.4,5e-5],[22.5,8e-5],[22.6,6.3e-4],[22.7,8e-5],[22.8,5e-5],[23.6,5e-5],[23.67,8e-5],[24.1,3.1e-3],[24.3,1.9e-3],[24.66,5.5e-4],[24.8,8e-5],[24.95,8e-5],[25.1,9.5e-3],[25.2,0.025],[25.4,0.028],[25.6,0.022],[25.8,5.3e-3],[26.0,0.0129],[26.16,0.0122],[26.3,0.017],[26.45,5.3e-3],[26.6,5.3e-3],[26.8,5.3e-3],[27.0,0.019],[27.2,0.032],[27.4,0.047],[27.57,0.06],[27.7,0.024],[27.8,0.0206],[27.9,0.032],[28.05,0.037]];
// Sigma = 1e6, v = 0.1c
const red_r4c2 = [[1.36,3.7e-4],[1.81,1.3e-4],[2.3,2.1e-4],[2.78,2.8e-4],[3.09,2.85e-4],[3.57,2.4e-4],[4.05,4.3e-4],[4.5,4.1e-4],[5.0,3.5e-4],[5.47,3.55e-4],[5.92,3.6e-4],[6.26,4.3e-4],[6.74,5.9e-4],[7.16,4e-4],[7.67,6.5e-4],[8.1,1.7e-4],[8.58,1.9e-4],[9.09,2.25e-4],[9.88,2.8e-4],[10.36,3.1e-4],[10.78,3.3e-4],[11.26,3.5e-4],[11.72,3.8e-4],[12.2,3.9e-4],[12.54,3.9e-4],[13.0,4.3e-4],[13.47,5e-4],[13.95,5.8e-4],[14.4,6.5e-4],[14.88,7.4e-4],[15.37,8.3e-4],[15.66,8.6e-4],[16.16,9.2e-4],[16.6,1.2e-3],[17.07,1.45e-3],[17.6,1.85e-3],[18.06,2e-3],[18.48,2.2e-3],[18.85,2.5e-3],[19.27,2.8e-3],[19.75,2.95e-3],[20.2,3.1e-3],[20.7,3.3e-3],[21.17,3.45e-3],[21.6,3.4e-3],[22.0,3.2e-3],[22.44,3.2e-3],[22.9,3.05e-3],[23.4,3.05e-3],[23.85,3.05e-3],[24.3,2.95e-3],[24.65,2.9e-3],[25.07,2.7e-3],[25.55,2.4e-3],[26.0,2.15e-3],[26.49,2.2e-3],[26.97,2.1e-3],[27.4,1.85e-3],[27.9,1.7e-3],[28.2,1.62e-3],[28.7,1.5e-3],[29.2,1.4e-3],[29.6,1.3e-3],[30.1,1.25e-3]];
const orange_r4c2 = [[1.36,0.19],[1.81,0.032],[2.3,0.041],[2.78,0.033],[3.14,0.025],[3.57,0.0205],[4.05,0.029],[4.5,0.0247],[5.0,0.0247],[5.47,0.0233],[5.92,0.0233],[6.26,0.0257],[6.74,0.0378],[7.16,0.029],[7.67,0.115],[8.1,6.9e-3],[8.58,5.9e-3],[9.09,6.4e-3],[9.88,7.2e-3],[10.36,7.3e-3],[10.78,7.7e-3],[11.26,8.5e-3],[11.72,9.8e-3],[12.2,0.0114],[12.54,0.0128],[13.0,0.0179],[13.47,0.021],[13.95,0.03],[14.4,0.039],[14.88,0.048],[15.37,0.055],[15.66,0.062],[16.16,0.068],[16.6,0.1],[17.07,0.144],[17.6,0.172],[18.06,0.156],[18.48,0.159],[18.85,0.212],[19.27,0.172],[19.75,0.178],[20.26,0.162],[20.7,0.178],[21.17,0.175],[21.6,0.175],[22.0,0.17],[22.44,0.172],[22.9,0.187],[23.4,0.17],[23.85,0.175],[24.3,0.2],[24.65,0.18],[25.07,0.223],[25.55,0.206],[26.0,0.2],[26.49,0.172],[26.97,0.2],[27.4,0.2],[27.9,0.184],[28.2,0.187],[28.7,0.172],[29.2,0.175],[29.6,0.167],[30.1,0.167]];
const blue_r4c2 = [[1.36,0.41],[1.81,0.0113],[2.3,6.5e-3],[2.78,0.01],[3.09,6.2e-3],[3.57,4.6e-3],[4.05,4e-3],[4.5,2.65e-3],[5.0,3.6e-3],[5.47,1.7e-3],[5.92,1.68e-3],[6.26,2.1e-3],[6.74,1.5e-3],[7.16,3e-3],[7.67,1.25e-3],[8.1,7.7e-4],[8.58,2.3e-4],[9.03,1.9e-4],[9.37,1.25e-4],[9.93,1.2e-4],[10.36,1.2e-4],[10.78,2.6e-4],[11.26,2.3e-4],[11.72,3.7e-4],[12.2,8.4e-4],[12.54,6.1e-4],[13.0,5.1e-4],[13.47,5.8e-4],[13.95,1.4e-3],[14.4,1.6e-3],[14.88,2.7e-3],[15.37,1.9e-3],[15.66,1.9e-3],[16.16,2.45e-3],[16.6,6.4e-3],[17.07,0.03],[17.6,0.0141],[18.06,6.8e-3],[18.48,6.9e-3],[18.85,0.0193],[19.27,0.068],[19.75,0.073],[20.2,0.051],[20.7,0.0316],[21.17,0.0475],[21.6,0.045],[22.0,0.06],[22.44,0.058],[22.9,0.07],[23.4,0.058],[23.85,0.125],[24.3,0.093],[24.65,0.159],[25.07,0.178],[25.55,0.089],[26.0,0.087],[26.49,0.159],[26.97,0.133],[27.4,0.193],[27.9,0.24],[28.2,0.245],[28.7,0.245],[29.2,0.3],[29.6,0.31],[30.1,0.28]];
const violet_r4c2 = [[1.36,5.6e-4],[1.5,5e-5],[26.0,5e-5],[26.5,1.05e-4],[27.0,5e-5],[29.3,5e-5],[29.5,1e-4],[29.7,1.65e-4],[30.1,2.8e-4]];
// Sigma = 1e6, v = 0.2c
const red_r4c3 = [[1.9,1.28e-4],[2.8,1.13e-4],[3.71,1.6e-4],[4.7,1.56e-4],[5.63,1.53e-4],[6.3,1.6e-4],[7.19,1.6e-4],[7.45,9.5e-5],[7.6,5e-5]];
const orange_r4c3 = [[1.9,0.047],[2.8,0.0279],[3.71,0.0362],[4.7,0.0362],[5.63,0.0279],[6.3,0.0248],[7.19,0.0214],[8.15,0.0103],[9.1,8.7e-3],[10.05,7.5e-3],[10.98,6.9e-3],[11.9,6.8e-3],[12.54,6.4e-3],[13.47,6.2e-3],[14.4,5.6e-3],[15.37,5.2e-3],[16.3,4.9e-3],[17.24,4.4e-3],[18.15,4.2e-3],[18.85,3.9e-3],[19.75,3.6e-3],[20.7,3.4e-3],[21.6,3e-3],[22.53,2.8e-3],[23.5,2.65e-3],[24.43,2.7e-3],[25.07,2.2e-3],[26.0,2.5e-3],[26.97,2.3e-3],[27.9,2.25e-3],[28.9,1.9e-3],[29.8,2.2e-3],[30.0,2.1e-3]];
const blue_r4c3 = [[1.9,0.038],[2.8,8.5e-3],[3.71,0.0134],[4.7,0.039],[5.63,0.096],[6.3,0.117],[7.19,0.144],[8.15,0.14],[9.1,0.141],[10.05,0.107],[10.98,0.077],[11.9,0.056],[12.54,0.036],[13.47,0.0236],[14.4,0.018],[15.37,0.017],[16.3,0.0155],[17.24,0.0128],[18.15,0.026],[18.85,0.0128],[19.75,0.0272],[20.7,0.0198],[21.6,0.029],[22.53,0.081],[23.5,0.082],[24.43,0.117],[25.07,0.0144],[26.0,0.113],[26.97,0.106],[27.9,0.117],[28.9,0.0185],[29.8,0.127],[30.0,0.113]];
const violet_r4c3 = [[4.93,1e-4],[5.63,5.2e-4],[6.3,1.35e-3],[7.19,4.2e-3],[8.15,5.8e-3],[9.1,6.1e-3],[10.05,9.4e-3],[10.98,8.5e-3],[11.9,8.9e-3],[12.54,0.01],[13.47,0.0131],[14.4,0.0139],[15.37,9.4e-3],[16.3,0.0159],[17.24,0.0176],[18.15,0.0139],[18.85,0.0224],[19.75,0.0125],[20.7,0.0214],[21.6,0.0134],[22.53,0.0124],[23.5,0.0114],[24.43,0.0113],[25.07,0.0263],[26.0,3.2e-3],[26.97,7.7e-3],[27.9,4.4e-3],[28.9,0.0139],[29.8,1.14e-3],[30.0,7.8e-4]];

const panels = [
  [[red_r1c1,orange_r1c1,blue_r1c1,violet_r1c1],[red_r1c2,orange_r1c2,blue_r1c2,violet_r1c2],[red_r1c3,orange_r1c3,blue_r1c3,violet_r1c3]],
  [[red_r2c1,orange_r2c1,blue_r2c1,violet_r2c1],[red_r2c2,orange_r2c2,blue_r2c2,violet_r2c2],[red_r2c3,orange_r2c3,blue_r2c3,violet_r2c3]],
  [[red_r3c1,orange_r3c1,blue_r3c1,violet_r3c1],[red_r3c2,orange_r3c2,blue_r3c2,violet_r3c2],[red_r3c3,orange_r3c3,blue_r3c3,violet_r3c3]],
  [[red_r4c1,orange_r4c1,blue_r4c1,violet_r4c1],[red_r4c2,orange_r4c2,blue_r4c2,violet_r4c2],[red_r4c3,orange_r4c3,blue_r4c3,violet_r4c3]]
];

// ---------- layout ----------
const svg = d3.select("#c");
const colLeft = [84.5, 444.3, 804.3], W = 353.8;
const rowTop = [29.8, 406.8, 784, 1161], H = 372;
const x = d3.scaleLinear().domain([0,30]).range([0,W]);
const y = d3.scaleLog().domain([1e-4, Math.pow(10,0.705)]).range([H,0]);
const line = d3.line().x(d=>x(d[0])).y(d=>y(d[1]));

function rich(g, parts, attrs){
  const t = g.append("text");
  Object.entries(attrs).forEach(([k,v])=>t.attr(k,v));
  let cur = 0;
  parts.forEach(p=>{
    const off = p.off||0;
    const ts = t.append("tspan").text(p.t).attr("dy", off-cur);
    cur = off;
    if (p.it) ts.attr("font-style","italic");
    if (p.fs) ts.attr("font-size",p.fs);
  });
  return t;
}

panels.forEach((row, r)=>{
  row.forEach((series, c)=>{
    const g = svg.append("g").attr("transform",`translate(${colLeft[c]},${rowTop[r]})`);
    g.append("clipPath").attr("id",`cp${r}${c}`).append("rect").attr("width",W).attr("height",H);
    g.append("rect").attr("width",W).attr("height",H).attr("fill","#fff");
    // grid
    [10,20].forEach(v=>g.append("line").attr("x1",x(v)).attr("x2",x(v)).attr("y1",0).attr("y2",H)
      .attr("stroke","#e2e2e2").attr("stroke-width",1));
    yTickExps.forEach(e=>g.append("line").attr("x1",0).attr("x2",W).attr("y1",y(Math.pow(10,e))).attr("y2",y(Math.pow(10,e)))
      .attr("stroke","#e2e2e2").attr("stroke-width",1));
    const lg = g.append("g").attr("clip-path",`url(#cp${r}${c})`);
    series.forEach((data,k)=>{
      lg.append("path").attr("d",line(data)).attr("fill","none")
        .attr("stroke",seriesColors[k]).attr("stroke-width",1.8).attr("stroke-linejoin","round");
    });
    g.append("rect").attr("width",W).attr("height",H).attr("fill","none")
      .attr("stroke","#3a3a3a").attr("stroke-width",1.3);
  });
});

// y tick labels (first column)
rowTop.forEach((rt)=>{
  yTickExps.forEach(e=>{
    const yy = rt + y(Math.pow(10,e));
    rich(svg, [{t:"10"},{t:(e===0?"0":"\u2212"+(-e)), fs:14, off:-8}],
      {x:colLeft[0]-4, y:yy+7.5, "text-anchor":"end", "font-size":19.5, "font-family":"Liberation Sans, Arial, sans-serif"});
  });
});
// x tick labels (bottom row)
colLeft.forEach((cl,c)=>{
  const ticks = c===2 ? xTicks : xTicks.slice(0,3);
  ticks.forEach(v=>{
    svg.append("text").attr("x",cl+x(v)).attr("y",rowTop[3]+H+23).attr("text-anchor","middle")
      .attr("font-size",19.5).attr("font-family","Liberation Sans, Arial, sans-serif").text(v);
  });
  // x axis label
  rich(svg, [{t:"t",it:true},{t:"/"},{t:"t",it:true},{t:"cross",fs:15,off:5}],
    {x:cl+W/2, y:1583, "text-anchor":"middle", "font-size":24});
  // column titles
  rich(svg, [{t:"v",it:true},{t:" = 0"+velocities[c].slice(1)},{t:"c",it:true}],
    {x:cl+W/2, y:21.5, "text-anchor":"middle", "font-size":23});
});
// y axis labels & right labels
rowTop.forEach((rt,r)=>{
  const cy = rt + H/2;
  const g1 = svg.append("g").attr("transform",`translate(31,${cy}) rotate(-90)`);
  rich(g1, [{t:"\u03bd",it:true},{t:"L",it:true},{t:"\u03bd",it:true,fs:15,off:5},{t:"/"},{t:"L",it:true},{t:"Edd,BH",fs:15,off:5}],
    {x:0, y:0, "text-anchor":"middle", "font-size":24});
  const g2 = svg.append("g").attr("transform",`translate(1187,${cy}) rotate(-90)`);
  rich(g2, [{t:"\u03a3 = 10"},{t:sigmaExps[r],fs:15,off:-10},{t:" g cm"},{t:"\u2212 2",fs:15,off:-10}],
    {x:0, y:0, "text-anchor":"middle", "font-size":25});
});

// legend (in panel row 1, column 2)
const lgd = svg.append("g");
lgd.append("rect").attr("x",667.5).attr("y",36.5).attr("width",126).attr("height",133.5)
  .attr("fill","#fff").attr("stroke","#3a3a3a").attr("stroke-width",1.2);
rich(lgd, [{t:"E",it:true},{t:"\u03b3",it:true,fs:13,off:4}], {x:730.5, y:59, "text-anchor":"middle", "font-size":20});
energyLabels.forEach((lab,k)=>{
  const yy = 83.3 + k*23.4;
  lgd.append("line").attr("x1",674).attr("x2",694).attr("y1",yy).attr("y2",yy)
    .attr("stroke",seriesColors[k]).attr("stroke-width",1.8);
  lgd.append("text").attr("x",700).attr("y",yy+6.5).attr("font-size",20).text(lab);
});
</script></body></html>
